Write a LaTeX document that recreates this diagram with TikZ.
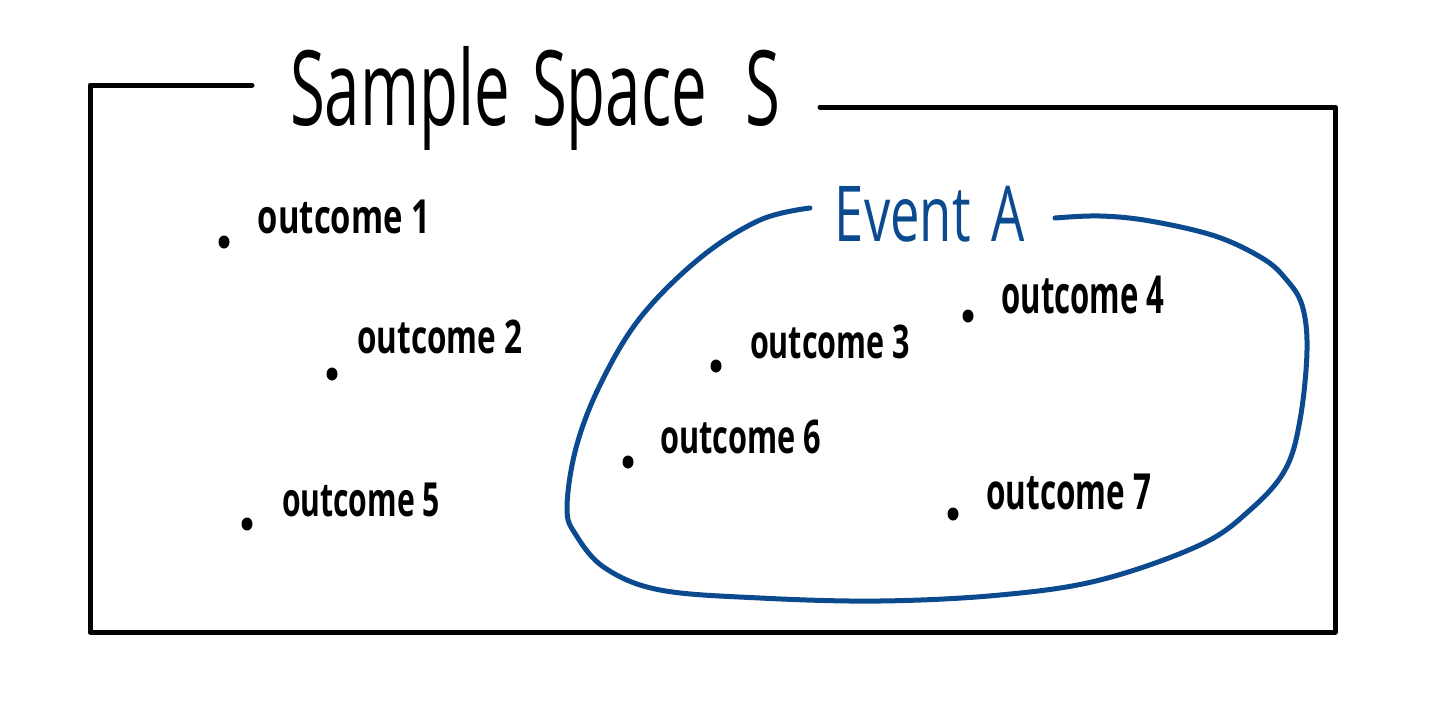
\documentclass[tikz,border=0pt]{standalone}
\usepackage{fontspec}
\usepackage{graphicx}
\setmainfont{Open Sans}
\definecolor{eventblue}{HTML}{0B4A8F}
\tikzset{
  frame/.style={line width=5pt, black, line cap=round, line join=round},
  blob/.style={line width=5pt, eventblue, line cap=round, line join=round},
  pt/.style={ellipse, fill=black, inner sep=0pt, minimum width=11pt, minimum height=13pt},
  lbl/.style={inner sep=0pt, anchor=center},
}
\usetikzlibrary{shapes.geometric}
\newcommand{\fitText}[3]{\resizebox*{#1pt}{#2pt}{\bfseries #3}}
\begin{document}
\begin{tikzpicture}[x=1pt,y=-1pt]
\useasboundingbox (0,0) rectangle (1440,717);
\fill[white] (0,0) rectangle (1440,717);
% frame
\node[lbl] (title) at (535,98) {\fitText{490}{104}{\mdseries Sample\hspace{0.35em}Space\hspace{0.6em}S}};
\draw[frame] (252,85) -- (90,85) -- (90,632) -- (1335,632) -- (1335,107) -- (820,107);
% event blob
\node[lbl, text=eventblue] (event) at (930,214) {\fitText{190}{56}{\mdseries Event\hspace{0.4em}A}};
\draw[blob] plot[smooth, tension=0.6] coordinates {
 (810,208) (760,220) (700,258) (640,318) (600,385) (576,448) (567,508) (576,535)
 (605,568) (660,590) (760,598) (880,601) (1000,595) (1100,580) (1200,545)
 (1250,510) (1285,470) (1300,420) (1307,350) (1302,305) (1285,278) (1262,258)
 (1215,236) (1150,221) (1100,216) (1055,218)};
% outcomes
\node[pt] (d1) at (224,242) {};
\node[pt] (d2) at (332,374) {};
\node[pt] (d3) at (716,366) {};
\node[pt] (d4) at (968,316) {};
\node[pt] (d5) at (247,524) {};
\node[pt] (d6) at (628,462) {};
\node[pt] (d7) at (953,514) {};
\node[lbl] (o1) at (344,217) {\fitText{172}{34}{outcome 1}};
\node[lbl] (o2) at (440,337) {\fitText{165}{34}{outcome 2}};
\node[lbl] (o3) at (830,342) {\fitText{160}{34}{outcome 3}};
\node[lbl] (o4) at (1083,295) {\fitText{163}{38}{outcome 4}};
\node[lbl] (o5) at (361,500) {\fitText{158}{34}{outcome 5}};
\node[lbl] (o6) at (741,437) {\fitText{161}{34}{outcome 6}};
\node[lbl] (o7) at (1069,492) {\fitText{165}{36}{outcome 7}};
\end{tikzpicture}
\end{document}
